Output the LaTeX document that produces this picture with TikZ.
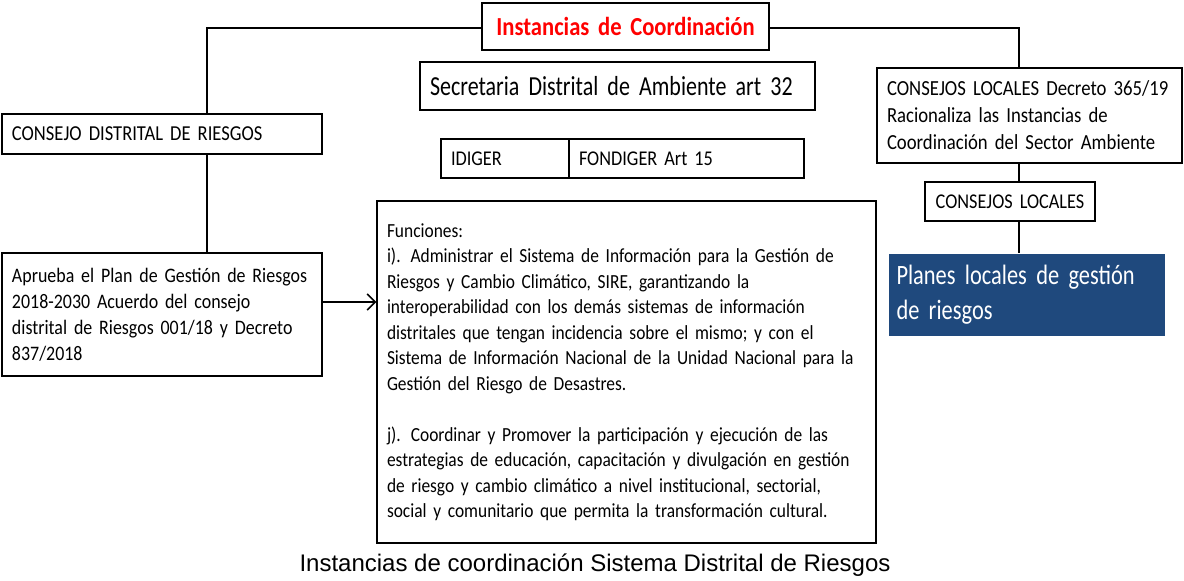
\documentclass[tikz,border=0pt]{standalone}
\usepackage{fontspec}
\setmainfont{Carlito}
\newfontfamily\cfont[FakeStretch=0.87]{Carlito}
\newfontfamily\cnarrow[FakeStretch=0.80]{Carlito}
\newfontfamily\capfont{Liberation Sans}
\usetikzlibrary{arrows.meta}
\definecolor{planblue}{HTML}{1F497D}
\definecolor{titlered}{HTML}{FF0000}
\begin{document}
\begin{tikzpicture}[x=1pt,y=-1pt,
  box/.style={draw=black, line width=1.4pt, inner xsep=10pt, inner ysep=0pt, align=left,
    font=\cfont\fontsize{21}{26}\selectfont},
  conn/.style={line width=1.4pt}]
\useasboundingbox (0,0) rectangle (1184,581);

\node[box, text width=267pt, minimum height=47pt, align=center,
  font=\cfont\bfseries\fontsize{26}{30}\selectfont, text=titlered] (title) at (625.5,26.5) {Instancias de Coordinación};

\node[box, text width=375pt, minimum height=48pt, font=\cnarrow\fontsize{27.5}{32}\selectfont] (secre) at (617.5,86) {Secretaria Distrital de Ambiente art 32};

\node[box, text width=108pt, minimum height=39pt] (idiger) at (505,158.5) {IDIGER};
\node[box, text width=215pt, minimum height=39pt] (fondiger) at (686.5,158.5) {FONDIGER Art 15};

\node[box, text width=300pt, minimum height=40pt, font=\cfont\fontsize{21.3}{26}\selectfont] (consejo) at (162,134) {CONSEJO DISTRITAL DE RIESGOS};

\node[box, text width=300pt, minimum height=123pt, font=\cfont\fontsize{20.6}{26}\selectfont] (aprueba) at (162,314.5) {Aprueba el Plan de Gestión de Riesgos\\2018-2030 Acuerdo del consejo\\distrital de Riesgos 001/18 y Decreto\\837/2018};

\node[box, text width=479pt, minimum height=342pt, font=\cfont\fontsize{20}{25.5}\selectfont] (funciones) at (626.5,372) {Funciones:\\
i). Administrar el Sistema de Información para la Gestión de\\
Riesgos y Cambio Climático, SIRE, garantizando la\\
interoperabilidad con los demás sistemas de información\\
distritales que tengan incidencia sobre el mismo; y con el\\
Sistema de Información Nacional de la Unidad Nacional para la\\
Gestión del Riesgo de Desastres.\\
\mbox{}\\
j). Coordinar y Promover la participación y ejecución de las\\
estrategias de educación, capacitación y divulgación en gestión\\
de riesgo y cambio climático a nivel institucional, sectorial,\\
social y comunitario que permita la transformación cultural.};

\node[box, text width=285pt, minimum height=95pt, font=\cfont\fontsize{21.5}{27}\selectfont] (decreto) at (1029.5,115.5) {CONSEJOS LOCALES Decreto 365/19\\Racionaliza las Instancias de\\Coordinación del Sector Ambiente};

\node[box, text width=150pt, minimum height=39pt, align=center] (locales) at (1010,201.5) {CONSEJOS LOCALES};

\node[box, draw=none, fill=planblue, text=white, text width=260pt, inner xsep=8pt, minimum height=82pt,
  font=\cnarrow\fontsize{28}{35}\selectfont] (planes) at (1026.5,295) {Planes locales de gestión\\de riesgos};

\node[font=\capfont\fontsize{24}{28}\selectfont, inner sep=0pt] (cap) at (595,565) {Instancias de coordinación Sistema Distrital de Riesgos};

\coordinate (lj) at (207,28);
\coordinate (rj) at (1019,28);
\coordinate (ay) at (0,302);

\draw[conn] (title.west |- lj) -- (lj) -- (consejo.north -| lj);
\draw[conn] (consejo.south -| lj) -- (aprueba.north -| lj);
\draw[conn] (title.east |- rj) -- (rj) -- (decreto.north -| rj);
\draw[conn] (decreto.south -| rj) -- (locales.north -| rj);
\draw[conn] (locales.south -| rj) -- (planes.north -| rj);
\draw[conn, -{Straight Barb[length=8pt,width=16pt,line width=1.6pt]}] (aprueba.east |- ay) -- (funciones.west |- ay);
\end{tikzpicture}
\end{document}
